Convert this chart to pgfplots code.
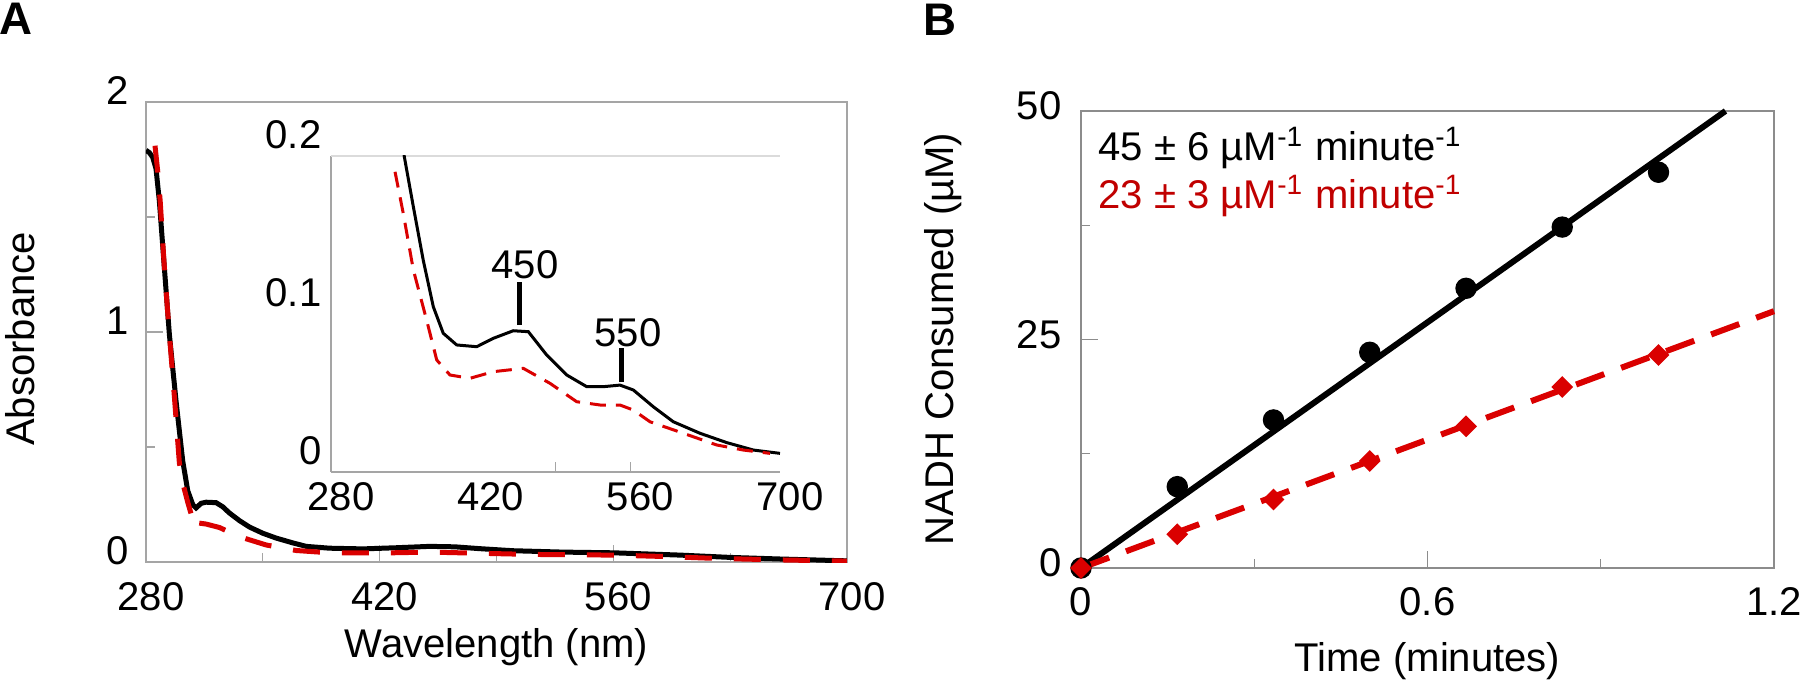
\documentclass[border=0pt]{standalone}
\usepackage{fontspec}
\setmainfont{Liberation Sans}
\usepackage{pgfplots}
\pgfplotsset{compat=1.18}
\definecolor{dred}{RGB}{218,0,0}
\definecolor{tred}{RGB}{192,0,0}
\definecolor{spine}{RGB}{165,165,165}
\definecolor{spineB}{RGB}{140,140,140}
\newcommand\lbl{\fontsize{11.4pt}{13.5pt}\selectfont}

\pgfplotsset{
  panel/.style={
    scale only axis,
    anchor=south west,
    axis line style={spine, line width=0.3pt},
    tick align=inside,
    xtick pos=bottom, ytick pos=left,
    major tick length=1.7mm, minor tick length=0.9mm,
    tick style={spine, line width=0.3pt},
    tick label style={font=\lbl},
    label style={font=\lbl},
    /pgf/number format/assume math mode=true,
  },
}

\begin{document}
\begin{tikzpicture}
\path[use as bounding box] (0,0) rectangle (180.1mm,68.1mm);

% ---- panel A, main spectrum
\begin{axis}[panel, at={(14.6mm,11.9mm)}, width=70.1mm, height=46.0mm,
  xmin=280, xmax=700, ymin=0, ymax=2,
  xtick={280,420,560,700}, minor xtick={350,490,630},
  ytick={0,1,2}, minor ytick={0.5,1.5},
  xticklabels={280,420,560,700}, yticklabels={0,1,2},
  xticklabel style={anchor=center, yshift=-3.5mm, xshift=0.5mm},
  yticklabel style={anchor=east, inner sep=0pt, xshift=-1.7mm, yshift=1.1mm},
  xlabel={Wavelength (nm)}, ylabel={Absorbance},
  xlabel style={at={(axis description cs:0.5,-0.185)}, anchor=center},
  ylabel style={at={(axis description cs:-0.18,0.485)}, anchor=center},
]
\addplot[black, line width=0.5mm] coordinates {
 (280,1.79) (282,1.78) (284,1.76) (286,1.71) (288,1.57) (291,1.28) (294,0.99)
 (298,0.70) (302,0.44) (305,0.31) (308,0.25) (310,0.235) (313,0.255) (316,0.26)
 (322,0.258) (326,0.24) (330,0.213) (336,0.18) (342,0.152) (350,0.125)
 (358,0.104) (368,0.083) (376,0.068) (390,0.060) (410,0.057) (430,0.062)
 (450,0.068) (465,0.066) (480,0.058) (500,0.049) (530,0.043) (560,0.040)
 (580,0.035) (600,0.030) (630,0.020) (660,0.013) (700,0.005)
};
\addplot[dred, line width=0.5mm, dash pattern=on 2.7mm off 2.2mm] coordinates {
 (285.4,1.81) (287,1.70) (288.5,1.57) (291,1.28) (294,0.99) (297,0.72)
 (300,0.43) (302.5,0.33) (305,0.26) (307,0.21) (308,0.16) (309,0.15)
 (311,0.17) (316,0.165) (324,0.150) (336,0.110) (352,0.074) (370,0.050)
 (390,0.040) (420,0.039) (450,0.043) (480,0.038) (510,0.033) (560,0.030)
 (590,0.024) (620,0.016) (660,0.009) (700,0.004)
};
\end{axis}

% ---- panel A, inset
\begin{axis}[panel, at={(33.1mm,20.9mm)}, width=44.9mm, height=31.6mm,
  xmin=280, xmax=700, ymin=0, ymax=0.2,
  axis x line*=bottom, axis y line*=left,
  xtick={280,420,560,700}, xticklabels={280,420,560,700},
  ytick={0,0.1,0.2}, yticklabels={0,0.1,0.2},
  major tick length=0pt,
  extra x ticks={490,560}, extra x tick labels={},
  extra x tick style={major tick length=1.0mm},
  xticklabel style={anchor=center, yshift=-2.5mm, xshift=1mm},
  yticklabel style={anchor=east, inner sep=0pt, xshift=-0.9mm, yshift=2.1mm},
]
\draw[spine!40] (rel axis cs:0,1) -- (rel axis cs:1,1);
\addplot[black, line width=0.3mm] coordinates {
 (348.3,0.2006) (357,0.168) (366.3,0.134) (375.7,0.1046) (385,0.0878)
 (397.6,0.0804) (416.3,0.0793) (431.8,0.0846) (450.5,0.0894) (464.6,0.0888)
 (481.8,0.074) (500.5,0.0614) (519.2,0.054) (534.8,0.054) (550.3,0.055)
 (562.8,0.0519) (581.5,0.0413) (600.2,0.0318) (625.2,0.0245) (650.2,0.0186)
 (675.1,0.0139) (700,0.0118)
};
\addplot[dred, line width=0.3mm, dash pattern=on 1.6mm off 1.0mm] coordinates {
 (339.9,0.190) (347.6,0.1637) (357,0.128) (369.5,0.096) (378.9,0.0709)
 (391.3,0.0614) (410,0.0593) (431.8,0.0635) (459.9,0.0656) (484.9,0.0561)
 (509.8,0.0445) (531.6,0.0424) (550.3,0.0424) (562.8,0.0392) (578.4,0.0318)
 (609.6,0.0245) (640.8,0.0171) (665.7,0.0139) (690.6,0.0118)
};
\addplot[black, line width=0.5mm] coordinates {(456,0.093) (456,0.120)};
\addplot[black, line width=0.5mm] coordinates {(552,0.057) (552,0.0785)};
\node[font=\lbl] at (axis cs:461.5,0.131) {450};
\node[font=\lbl] at (axis cs:557.8,0.088) {550};
\end{axis}

% ---- panel B
\begin{axis}[panel, at={(108.1mm,11.3mm)}, width=69.3mm, height=45.7mm,
  axis line style={spineB, line width=0.3pt}, tick style={spineB, line width=0.3pt},
  xmin=0, xmax=1.2, ymin=0, ymax=50, clip=false,
  xtick={0,0.6,1.2}, xticklabels={0,0.6,1.2}, minor xtick={0.3,0.9},
  ytick={0,25,50}, yticklabels={0,25,50}, minor ytick={12.5,37.5},
  xticklabel style={anchor=center, yshift=-3.4mm},
  yticklabel style={anchor=east, inner sep=0pt, xshift=-1.9mm, yshift=0.5mm},
  xlabel={Time (minutes)}, ylabel={NADH Consumed (µM)},
  xlabel style={at={(axis description cs:0.5,-0.2035)}, anchor=center},
  ylabel style={at={(axis description cs:-0.199,0.501)}, anchor=center},
]
\addplot[black, line width=0.6mm] coordinates {(0,0) (1.116,50)};
\addplot[only marks, mark=*, mark size=1mm, black] coordinates {
 (0,0) (0.1667,8.9) (0.3333,16.2) (0.5,23.6) (0.6667,30.6) (0.8333,37.3) (1.0,43.3)
};
\addplot[dred, line width=0.6mm, dash pattern=on 3mm off 1.8mm] coordinates {(0,0) (1.2,28.1)};
\addplot[only marks, mark=square*, mark size=0.7mm, mark options={rotate=45}, dred] coordinates {
 (0,0) (0.1667,3.7) (0.3333,7.5) (0.5,11.7) (0.6667,15.5) (0.8333,19.8) (1.0,23.3)
};
\node[anchor=west, font=\lbl, inner sep=0pt] at (axis description cs:0.0245,0.919)
  {45 ± 6 µM\textsuperscript{-1} minute\textsuperscript{-1}};
\node[anchor=west, font=\lbl, inner sep=0pt, text=tred] at (axis description cs:0.0245,0.814)
  {23 ± 3 µM\textsuperscript{-1} minute\textsuperscript{-1}};
\end{axis}

\node[font=\bfseries\fontsize{13pt}{15pt}\selectfont] at (1.6mm,66.25mm) {A};
\node[font=\bfseries\fontsize{13pt}{15pt}\selectfont] at (94.0mm,66.1mm) {B};
\end{tikzpicture}
\end{document}
